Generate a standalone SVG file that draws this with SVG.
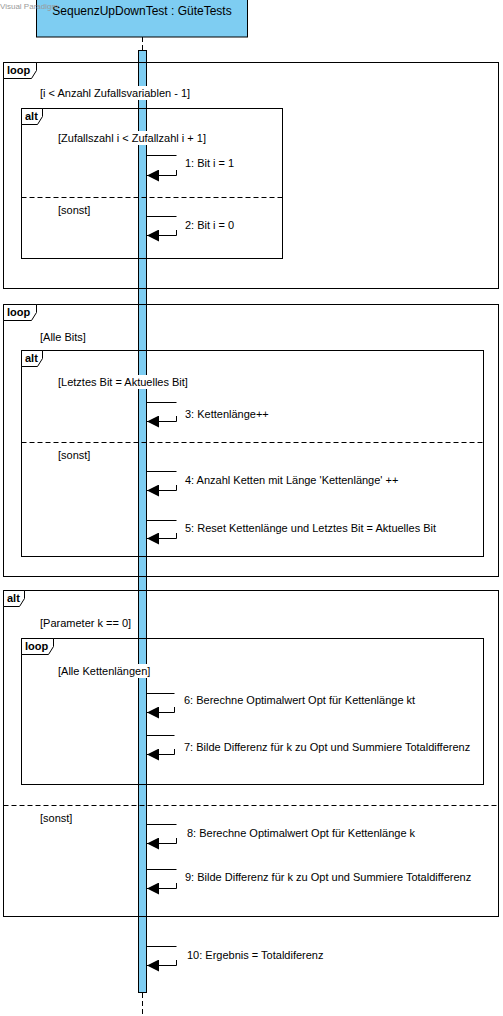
<svg xmlns="http://www.w3.org/2000/svg" width="503" height="1016" viewBox="0 0 503 1016">
<style>
text{font-family:"Liberation Sans",Arial,sans-serif;font-size:11px;fill:#000}
.frame{fill:none;stroke:#000;stroke-width:1}
.tab{fill:#fff;stroke:#000;stroke-width:1}
.tl{font-weight:bold}
.sep{stroke:#000;stroke-width:1;stroke-dasharray:5,3}
.msg{stroke:#000;stroke-width:1;fill:none}
.ret{stroke:#000;stroke-width:1;fill:none;marker-end:url(#ah)}
.wm{font-size:8px;fill:#9a9a9a}
.bg{fill:#fff}
</style>
<defs>
<marker id="ah" markerUnits="userSpaceOnUse" markerWidth="13" markerHeight="12" refX="12" refY="6" orient="auto">
<path d="M0,0 L12,6 L0,12 z" fill="#000"/>
</marker>
</defs>
<rect width="503" height="1016" fill="#fff"/>

<g id="lifeline">
<line x1="142.5" y1="37" x2="142.5" y2="50" stroke="#000" stroke-dasharray="5,3"/>
<line x1="142.5" y1="993" x2="142.5" y2="1016" stroke="#000" stroke-dasharray="5,3"/>
<rect x="138.5" y="50.5" width="8" height="942" fill="#7ecdf2" stroke="#000"/>
</g>

<g id="frame-loop1">
<rect class="frame" x="3.5" y="62.5" width="495" height="226"/>
<path class="tab" d="M3.5,62.5 H36.5 V70.5 L31.5,78.5 H3.5 z"/>
<text class="tl" x="7" y="74">loop</text>
<rect class="bg" x="137" y="86" width="11" height="14"/>
<text x="40" y="97">[i &lt; Anzahl Zufallsvariablen - 1]</text>
</g>
<g id="frame-alt1">
<rect class="frame" x="21.5" y="108.5" width="261" height="150"/>
<path class="tab" d="M21.5,108.5 H42.5 V116.5 L37.5,124.5 H21.5 z"/>
<text class="tl" x="25" y="120">alt</text>
<rect class="bg" x="137" y="131" width="11" height="14"/>
<text x="58" y="142">[Zufallszahl i &lt; Zufallzahl i + 1]</text>
<line class="sep" x1="21.5" y1="197.5" x2="282.5" y2="197.5"/>
<text x="58" y="214">[sonst]</text>
</g>

<g id="frame-loop2">
<rect class="frame" x="3.5" y="304.5" width="495" height="272"/>
<path class="tab" d="M3.5,304.5 H36.5 V312.5 L31.5,320.5 H3.5 z"/>
<text class="tl" x="7" y="316">loop</text>
<text x="40" y="341">[Alle Bits]</text>
</g>
<g id="frame-alt2">
<rect class="frame" x="21.5" y="350.5" width="462" height="206"/>
<path class="tab" d="M21.5,350.5 H42.5 V358.5 L37.5,366.5 H21.5 z"/>
<text class="tl" x="25" y="362">alt</text>
<rect class="bg" x="137" y="375" width="11" height="14"/>
<text x="58" y="386">[Letztes Bit = Aktuelles Bit]</text>
<line class="sep" x1="21.5" y1="442.5" x2="483.5" y2="442.5"/>
<text x="58" y="459">[sonst]</text>
</g>

<g id="frame-alt3">
<rect class="frame" x="3.5" y="590.5" width="495" height="326"/>
<path class="tab" d="M3.5,590.5 H24.5 V598.5 L19.5,606.5 H3.5 z"/>
<text class="tl" x="7" y="602">alt</text>
<text x="40" y="627">[Parameter k == 0]</text>
<line class="sep" x1="3.5" y1="805.5" x2="498.5" y2="805.5"/>
<text x="40" y="822">[sonst]</text>
</g>
<g id="frame-loop3">
<rect class="frame" x="21.5" y="638.5" width="462" height="146"/>
<path class="tab" d="M21.5,638.5 H53.5 V646.5 L48.5,654.5 H21.5 z"/>
<text class="tl" x="25" y="650">loop</text>
<rect class="bg" x="137" y="664" width="11" height="14"/>
<text x="58" y="675">[Alle Kettenlängen]</text>
</g>

<g id="header">
<rect x="36.5" y="-1" width="211" height="38" fill="#7ecdf2" stroke="#000"/>
<text x="142" y="15" text-anchor="middle" style="font-size:12px">SequenzUpDownTest : GüteTests</text>
</g>
<text class="wm" x="0" y="9">Visual Paradigm</text>

<g id="connectors">
<path class="msg" d="M146.5,155.5 H176.5 M176.5,170 V175.5"/>
<path class="ret" d="M176.5,175.5 H147"/>
<path class="msg" d="M146.5,216.5 H176.5 M176.5,230 V235.5"/>
<path class="ret" d="M176.5,235.5 H147"/>
<path class="msg" d="M146.5,402.5 H176.5 M176.5,416 V421.5"/>
<path class="ret" d="M176.5,421.5 H147"/>
<path class="msg" d="M146.5,471.5 H176.5 M176.5,485 V490.5"/>
<path class="ret" d="M176.5,490.5 H147"/>
<path class="msg" d="M146.5,520.5 H176.5 M176.5,533 V538.5"/>
<path class="ret" d="M176.5,538.5 H147"/>
<path class="msg" d="M146.5,693.5 H174.5 M174.5,707 V712.5"/>
<path class="ret" d="M174.5,712.5 H147"/>
<path class="msg" d="M146.5,735.5 H174.5 M174.5,749 V754.5"/>
<path class="ret" d="M174.5,754.5 H147"/>
<path class="msg" d="M146.5,824.5 H176.5 M176.5,838 V843.5"/>
<path class="ret" d="M176.5,843.5 H147"/>
<path class="msg" d="M146.5,869.5 H176.5 M176.5,883 V888.5"/>
<path class="ret" d="M176.5,888.5 H147"/>
<path class="msg" d="M146.5,946.5 H176.5 M176.5,960 V965.5"/>
<path class="ret" d="M176.5,965.5 H147"/>
</g>

<g id="labels">
<text x="185" y="167">1: Bit i = 1</text>
<text x="185" y="229">2: Bit i = 0</text>
<text x="185" y="418">3: Kettenlänge++</text>
<text x="185" y="484">4: Anzahl Ketten mit Länge 'Kettenlänge' ++</text>
<text x="185" y="532">5: Reset Kettenlänge und Letztes Bit = Aktuelles Bit</text>
<text x="184" y="704">6: Berechne Optimalwert Opt für Kettenlänge kt</text>
<text x="184" y="751">7: Bilde Differenz für k zu Opt und Summiere Totaldifferenz</text>
<text x="187" y="837">8: Berechne Optimalwert Opt für Kettenlänge k</text>
<text x="185" y="881">9: Bilde Differenz für k zu Opt und Summiere Totaldifferenz</text>
<text x="187" y="959">10: Ergebnis = Totaldiferenz</text>
</g>
</svg>
